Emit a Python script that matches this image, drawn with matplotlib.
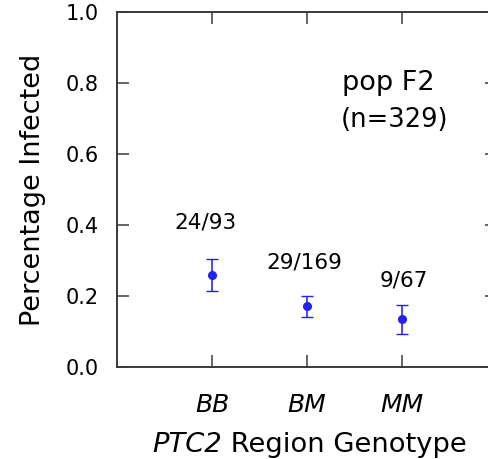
import numpy as np
import matplotlib
matplotlib.use("Agg")
import matplotlib.pyplot as plt

plt.rcParams['font.family'] = ['DejaVu Sans']

# 数据
genotypes = ["BB", "BM", "MM"]
infected = [0.259, 0.172, 0.135]
err_low = [0.046, 0.030, 0.043]
err_high = [0.044, 0.029, 0.041]
counts = ["24/93", "29/169", "9/67"]
y_ticks = [0.0, 0.2, 0.4, 0.6, 0.8, 1.0]

# 标注位置 (数据坐标)
count_pos = [(0.934, 0.391), (1.975, 0.278), (3.02, 0.226)]

fig = plt.figure(figsize=(4.89, 4.59), dpi=100)
ax = fig.add_axes([0.2393, 0.2004, 0.7771, 0.7734])

x = np.arange(1, len(genotypes) + 1)
ax.errorbar(x, infected, yerr=[err_low, err_high], fmt='o', color='#2222ee',
            markersize=5.5, elinewidth=1.15, capsize=4, capthick=1.0)

for (px, py), txt in zip(count_pos, counts):
    ax.text(px, py, txt, ha='center', va='baseline', fontsize=15.5)

ax.text(2.852, 0.780, "pop F2", ha='center', va='baseline', fontsize=19.5)
ax.text(2.916, 0.677, "(n=329)", ha='center', va='baseline', fontsize=18.5)

ax.set_xlim(0, 4)
ax.set_ylim(0, 1.0)
ax.set_xticks(x)
ax.set_xticklabels(genotypes, fontstyle='italic', fontsize=18)
ax.set_yticks(y_ticks)
ax.set_yticklabels(["%.1f" % v for v in y_ticks], fontsize=15)

ax.tick_params(axis='both', direction='in', length=8.3, width=1.1,
               top=True, right=True, color='#3a3a3a')
ax.tick_params(axis='y', pad=13)
ax.tick_params(axis='x', pad=18.5)

for s in ax.spines.values():
    s.set_linewidth(1.4)
    s.set_color('#3a3a3a')

ax.set_ylabel("Percentage Infected", fontsize=19.5, labelpad=14)

# x轴标题: PTC2 斜体 + 正体
fig.canvas.draw()
r = fig.canvas.get_renderer()
t1 = fig.text(0, 7 / 459, "PTC2", fontsize=19.7, fontstyle='italic', va='baseline')
t2 = fig.text(0, 7 / 459, " Region Genotype", fontsize=19.7, va='baseline')
w1 = t1.get_window_extent(r).width
w2 = t2.get_window_extent(r).width
x0 = 310 - (w1 + w2) / 2
t1.set_x(x0 / 489)
t2.set_x((x0 + w1) / 489)

fig.savefig("out.png", dpi=100)
